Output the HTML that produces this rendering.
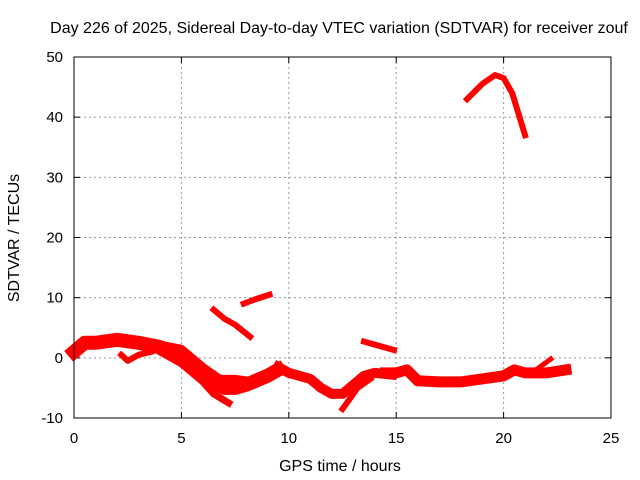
<!DOCTYPE html>
<html><head><meta charset="utf-8"><style>
body{margin:0;background:#fff}
svg{display:block;font-family:"Liberation Sans",sans-serif}
</style></head><body>
<svg id="c" width="640" height="480">
<rect width="640" height="480" fill="#fff"/>
<text x="339" y="33" text-anchor="middle" font-size="16">Day 226 of 2025, Sidereal Day-to-day VTEC variation (SDTVAR) for receiver zouf</text>
<text x="340" y="471" text-anchor="middle" font-size="16">GPS time / hours</text>
<text transform="translate(19,238) rotate(-90)" text-anchor="middle" font-size="16">SDTVAR / TECUs</text>
<g id="grid"></g><g id="marks"></g>
<rect x="74" y="57" width="537" height="361" fill="none" stroke="#000" stroke-width="1"/>
</svg>
<script>
const xTicks=[0,5,10,15,20,25];
const yTicks=[-10,0,10,20,30,40,50];
const s1T=[0,0.5,1,2,3,4,5,6,7,7.5,8,9,9.5];
const s1V=[1,2.5,2.5,3,2.5,1.8,0,-3,-5,-5,-4.5,-3,-2];
const s2T=[4,5,6,6.5,7.2];
const s2V=[1,-1,-4,-6,-7.5];
const s3T=[4,5,6,6.8,7.5,8.5,9.2];
const s3V=[2.2,1.5,-1.5,-3.5,-3.5,-4,-3];
const s4T=[2.2,2.5,3,3.6];
const s4V=[0.5,-0.5,0.5,1];
const s5T=[9.5,10,11,11.5,12,12.5,13,13.5,14,14.8];
const s5V=[-1.5,-2.5,-3.5,-5,-6,-6,-4.5,-3,-2.5,-2.8];
const s6T=[12.5,12.8,13.2,13.8];
const s6V=[-8.5,-7,-5,-3.5];
const s7T=[14.5,15,15.5,16,17,18,19,20,20.5,21,21.5,22,22.9];
const s7V=[-2.5,-2.5,-2,-3.8,-4,-4,-3.5,-3,-2,-2.5,-2.5,-2.5,-2];
const s8T=[21.5,22.2];
const s8V=[-2,-0.2];
const s9T=[6.5,7,7.5,8.2];
const s9V=[8,6.5,5.5,3.5];
const s10T=[7.9,8.5,9.1];
const s10V=[9,9.8,10.5];
const s11T=[13.5,14.2,14.9];
const s11V=[2.7,2,1.3];
const s12T=[18.3,19,19.6,20,20.4,21];
const s12V=[43,45.5,47,46.5,44,37];
const series=[[s1T,s1V,14],[s2T,s2V,7],[s3T,s3V,8],[s4T,s4V,6],[s5T,s5V,10],[s6T,s6V,6],[s7T,s7V,11],[s8T,s8V,5],[s9T,s9V,6],[s10T,s10V,6],[s11T,s11V,6],[s12T,s12V,6]];
const X=t=>74+t*537/25, Y=v=>418-(v+10)*361/60;
const NS="http://www.w3.org/2000/svg";
const grid=document.getElementById('grid'), marks=document.getElementById('marks');
function mk(tag,attrs,parent){const e=document.createElementNS(NS,tag);for(const k in attrs)e.setAttribute(k,attrs[k]);parent.appendChild(e);return e;}
xTicks.forEach(t=>{
  if(t>0&&t<25){const l=mk('line',{x1:X(t),x2:X(t),y1:57,y2:418,stroke:'#999','stroke-dasharray':'2,3'},grid);
  
  }
  mk('line',{x1:X(t),x2:X(t),y1:418,y2:412,stroke:'#000'},grid);
  mk('line',{x1:X(t),x2:X(t),y1:57,y2:63,stroke:'#000'},grid);
  const tx=mk('text',{x:X(t),y:443,'text-anchor':'middle','font-size':15},grid);tx.textContent=t;
  
  
});
yTicks.forEach(v=>{
  if(v>-10&&v<50){const l=mk('line',{x1:74,x2:611,y1:Y(v),y2:Y(v),stroke:'#999','stroke-dasharray':'2,3'},grid);
  
  }
  mk('line',{x1:74,x2:80,y1:Y(v),y2:Y(v),stroke:'#000'},grid);
  mk('line',{x1:611,x2:605,y1:Y(v),y2:Y(v),stroke:'#000'},grid);
  const tx=mk('text',{x:63,y:Y(v)+5,'text-anchor':'end','font-size':15},grid);tx.textContent=v;
  
  
});
series.forEach(([T,V,w],i)=>{
  const p=mk('polyline',{points:T.map((t,j)=>X(t)+','+Y(V[j])).join(' '),fill:'none',stroke:'#ff0000','stroke-width':w,'stroke-linejoin':'round','stroke-linecap':'square'},marks);
  
  
});
</script>
</body></html>
